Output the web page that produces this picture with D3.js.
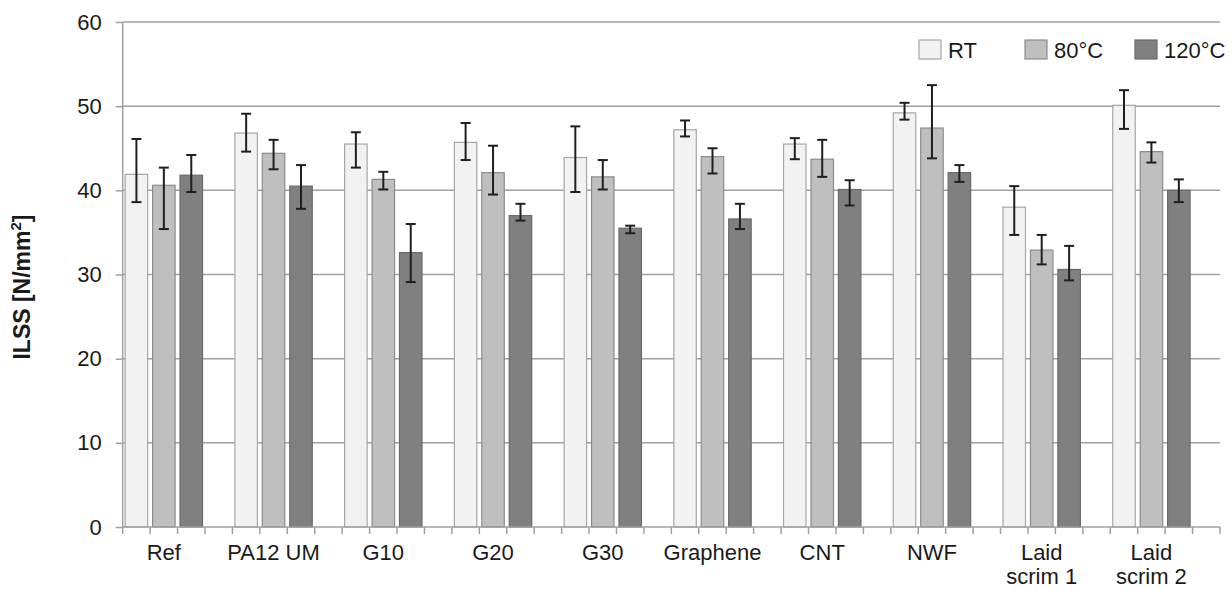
<!DOCTYPE html>
<html lang="en">
<head>
<meta charset="UTF-8">
<title>ILSS</title>
<style>
  body { margin: 0; background: #fff; font-family: "Liberation Sans", Arial, sans-serif; }
  svg text { fill: #1a1a1a; }
</style>
</head>
<body>
<svg id="chart" width="1232" height="590"></svg>
<script src="https://d3js.org/d3.v7.min.js"></script>
<script>
// categories (label lines)
const categories = [["Ref"], ["PA12 UM"], ["G10"], ["G20"], ["G30"], ["Graphene"], ["CNT"], ["NWF"], ["Laid", "scrim 1"], ["Laid", "scrim 2"]];
const seriesNames = ["RT", "80°C", "120°C"];
const seriesFill = ["#f2f2f2", "#bfbfbf", "#808080"];
const seriesStroke = ["#a6a6a6", "#8c8c8c", "#6a6a6a"];

// values per series (one value per category)
const rtValues   = [41.9, 46.8, 45.5, 45.7, 43.9, 47.2, 45.5, 49.2, 38.0, 50.1];
const c80Values  = [40.6, 44.4, 41.3, 42.1, 41.6, 44.0, 43.7, 47.4, 32.9, 44.6];
const c120Values = [41.8, 40.5, 32.6, 37.0, 35.5, 36.6, 40.1, 42.1, 30.6, 40.0];

// error bar ends [upper, lower]
const rtErrHi   = [46.1, 49.1, 46.9, 48.0, 47.6, 48.3, 46.2, 50.4, 40.5, 51.9];
const rtErrLo   = [38.6, 44.6, 42.7, 43.6, 39.8, 46.4, 43.7, 48.4, 34.7, 47.3];
const c80ErrHi  = [42.7, 46.0, 42.2, 45.3, 43.6, 45.0, 46.0, 52.5, 34.7, 45.7];
const c80ErrLo  = [35.4, 42.5, 40.1, 39.5, 40.1, 42.0, 41.6, 43.8, 31.2, 43.3];
const c120ErrHi = [44.2, 43.0, 36.0, 38.4, 35.8, 38.4, 41.2, 43.0, 33.4, 41.3];
const c120ErrLo = [39.8, 37.8, 29.1, 36.4, 34.9, 35.4, 38.2, 41.0, 29.3, 38.6];

const yTicks = [0, 10, 20, 30, 40, 50, 60];

const series = [
  { values: rtValues, hi: rtErrHi, lo: rtErrLo },
  { values: c80Values, hi: c80ErrHi, lo: c80ErrLo },
  { values: c120Values, hi: c120ErrHi, lo: c120ErrLo }
];

const svg = d3.select("#chart");
const plotL = 122.7, plotR = 1220, plotT = 22, plotB = 527;

const x = d3.scaleBand().domain(d3.range(categories.length)).range([plotL, plotR]).padding(0);
// 4 slots per category, the last one stays empty
const xSlot = d3.scaleBand().domain([0, 1, 2, 3]).range([0, x.bandwidth()]).padding(0);
const y = d3.scaleLinear().domain([0, 60]).range([plotB, plotT]);

const gridColor = "#a0a0a0";

// horizontal gridlines
svg.append("g")
  .selectAll("line")
  .data(yTicks.filter(d => d > 0))
  .join("line")
  .attr("x1", plotL).attr("x2", plotR)
  .attr("y1", d => y(d)).attr("y2", d => y(d))
  .attr("stroke", gridColor).attr("stroke-width", 1.5);

// y axis
const yAxis = svg.append("g")
  .attr("transform", `translate(${plotL},0)`)
  .call(d3.axisLeft(y).tickValues(yTicks).tickSize(7).tickPadding(14));
yAxis.selectAll("path, line").attr("stroke", gridColor).attr("stroke-width", 1.5);
yAxis.select(".domain").attr("d", `M0,${plotT}V${plotB}`);
yAxis.selectAll("text").attr("font-size", 22).attr("font-family", "Liberation Sans, Arial, sans-serif").attr("fill", "#1a1a1a");

// bars
const barW = xSlot.bandwidth() * 0.82;
const groups = svg.append("g")
  .selectAll("g")
  .data(series)
  .join("g");

groups.each(function (s, si) {
  const g = d3.select(this);
  g.selectAll("rect")
    .data(s.values)
    .join("rect")
    .attr("x", (d, i) => x(i) + xSlot(si) + (xSlot.bandwidth() - barW) / 2)
    .attr("y", d => y(d))
    .attr("width", barW)
    .attr("height", d => y(0) - y(d))
    .attr("fill", seriesFill[si])
    .attr("stroke", seriesStroke[si])
    .attr("stroke-width", 1.2);

  const cx = i => x(i) + xSlot(si) + xSlot.bandwidth() / 2;
  const err = g.append("g").attr("stroke", "#1f1f1f").attr("stroke-width", 2);
  s.values.forEach((v, i) => {
    err.append("line").attr("x1", cx(i)).attr("x2", cx(i)).attr("y1", y(s.hi[i])).attr("y2", y(s.lo[i]));
    err.append("line").attr("x1", cx(i) - 5).attr("x2", cx(i) + 5).attr("y1", y(s.hi[i])).attr("y2", y(s.hi[i]));
    err.append("line").attr("x1", cx(i) - 5).attr("x2", cx(i) + 5).attr("y1", y(s.lo[i])).attr("y2", y(s.lo[i]));
  });
});

// x axis line and slot ticks
const xa = svg.append("g");
xa.append("line")
  .attr("x1", plotL).attr("x2", plotR)
  .attr("y1", y(0)).attr("y2", y(0))
  .attr("stroke", gridColor).attr("stroke-width", 1.5);
const slotEdges = [];
categories.forEach((c, i) => [0, 1, 2, 3].forEach(k => slotEdges.push(x(i) + xSlot(k))));
slotEdges.push(plotR);
xa.selectAll("line.tick")
  .data(slotEdges)
  .join("line")
  .attr("class", "tick")
  .attr("x1", d => d).attr("x2", d => d)
  .attr("y1", y(0)).attr("y2", y(0) + 7)
  .attr("stroke", gridColor).attr("stroke-width", 1.5);

// category labels, centred on the three bars
const lab = xa.selectAll("text")
  .data(categories)
  .join("text")
  .attr("text-anchor", "middle")
  .attr("font-size", 22)
  .attr("x", (d, i) => x(i) + xSlot(1) + xSlot.bandwidth() / 2)
  .attr("y", 560);
lab.selectAll("tspan")
  .data(d => d)
  .join("tspan")
  .attr("x", function () { return d3.select(this.parentNode).attr("x"); })
  .attr("dy", (d, i) => i === 0 ? 0 : 24)
  .text(d => d);

// y axis title
svg.append("text")
  .attr("transform", "translate(30,287) rotate(-90)")
  .attr("text-anchor", "middle")
  .attr("font-size", 23)
  .attr("font-weight", "bold")
  .html('ILSS [N/mm<tspan font-size="15" dy="-9">2</tspan><tspan dy="9">]</tspan>');

// legend
const legendX = [919, 1025, 1135];
const legend = svg.append("g")
  .selectAll("g")
  .data(seriesNames)
  .join("g")
  .attr("transform", (d, i) => `translate(${legendX[i]},40)`);
legend.append("rect")
  .attr("width", 22).attr("height", 19)
  .attr("fill", (d, i) => seriesFill[i])
  .attr("stroke", (d, i) => seriesStroke[i])
  .attr("stroke-width", 1.2);
legend.append("text")
  .attr("x", 29).attr("y", 18)
  .attr("font-size", 22)
  .text(d => d);
</script>
</body>
</html>
